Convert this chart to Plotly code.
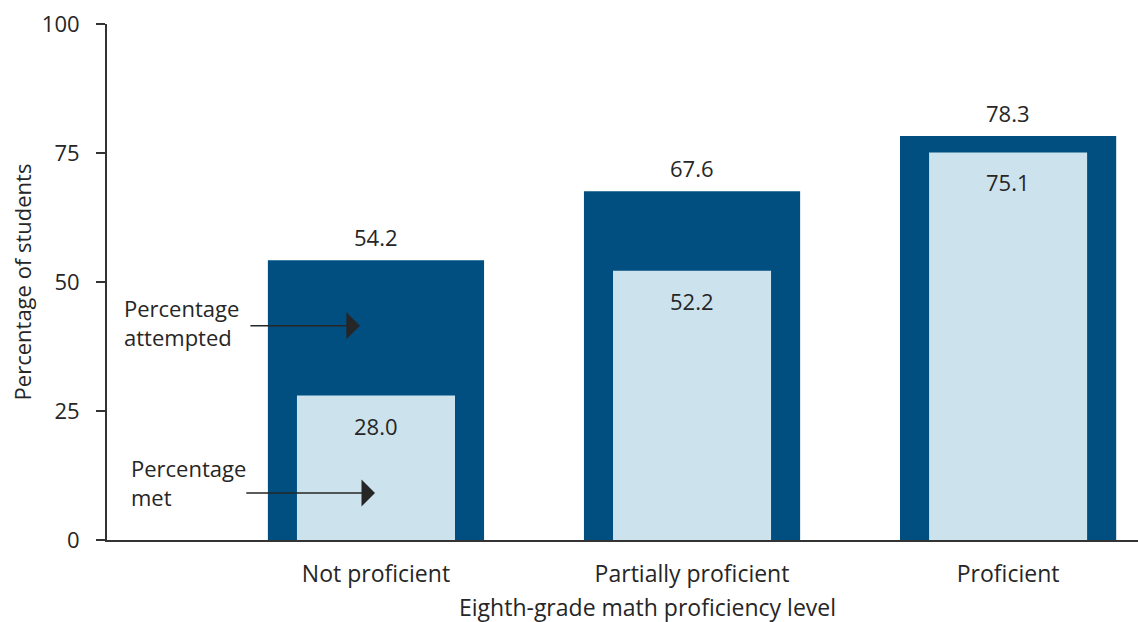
import plotly.graph_objects as go

categories = ["Not proficient", "Partially proficient", "Proficient"]
attempted = [54.2, 67.6, 78.3]
met = [28.0, 52.2, 75.1]
y_ticks = [0, 25, 50, 75, 100]

DARK = "#004f80"
LIGHT = "#cce3ee"
TXT = "#262626"
FONT = "Open Sans"

xpos = list(range(len(categories)))

fig = go.Figure()
fig.add_trace(go.Bar(x=xpos, y=attempted, width=0.684, marker=dict(color=DARK, line=dict(width=0)),
                     hoverinfo="skip", showlegend=False))
fig.add_trace(go.Bar(x=xpos, y=met, width=0.5, marker=dict(color=LIGHT, line=dict(width=0)),
                     hoverinfo="skip", showlegend=False))

annotations = []
for i, v in enumerate(attempted):
    annotations.append(dict(x=i, y=v, text=f"{v:.1f}", showarrow=False, yshift=23,
                            font=dict(size=22, color=TXT, family=FONT)))
for i, v in enumerate(met):
    annotations.append(dict(x=i, y=v, text=f"{v:.1f}", showarrow=False, yshift=-30,
                            font=dict(size=22, color=TXT, family=FONT)))

annotations += [
    dict(x=-0.804, y=42.2, text="Percentage<br>attempted", showarrow=False, xanchor="left",
         align="left", font=dict(size=22, color=TXT, family=FONT)),
    dict(x=-0.051, y=41.5, ax=-0.402, ay=41.5, axref="x", ayref="y", xref="x", yref="y",
         showarrow=True, arrowhead=1, arrowsize=3, arrowwidth=1.5, arrowcolor="#262626", text=""),
    dict(x=-0.782, y=11.2, text="Percentage<br>met", showarrow=False, xanchor="left",
         align="left", font=dict(size=22, color=TXT, family=FONT)),
    dict(x=-0.003, y=9.1, ax=-0.415, ay=9.1, axref="x", ayref="y", xref="x", yref="y",
         showarrow=True, arrowhead=1, arrowsize=3, arrowwidth=1.5, arrowcolor="#262626", text=""),
    dict(x=0.5247, y=-0.1298, xref="paper", yref="paper", text="Eighth-grade math proficiency level",
         showarrow=False, xanchor="center", yanchor="middle",
         font=dict(size=23, color=TXT, family=FONT)),
]

fig.update_layout(
    width=1138, height=622,
    margin=dict(l=107, r=0, t=24, b=82),
    paper_bgcolor="white", plot_bgcolor="white",
    barmode="overlay",
    font=dict(family=FONT, size=22, color=TXT),
    annotations=annotations,
    xaxis=dict(range=[-0.851, 2.411], tickvals=xpos, ticktext=categories, showgrid=False,
               zeroline=False, showline=True, linecolor="#333333", linewidth=2, ticks="",
               ticklabelstandoff=12,
               tickfont=dict(size=23, color=TXT, family=FONT), fixedrange=True),
    yaxis=dict(range=[0, 100], tickvals=y_ticks, showgrid=False, zeroline=False,
               showline=True, linecolor="#333333", linewidth=2, ticks="outside", ticklen=9,
               tickwidth=2, tickcolor="#333333", ticklabelstandoff=12,
               title=dict(text="Percentage of students", standoff=4,
                          font=dict(size=22, color=TXT, family=FONT)),
               tickfont=dict(size=22, color=TXT, family=FONT), fixedrange=True),
)

fig.write_html("out.html")
